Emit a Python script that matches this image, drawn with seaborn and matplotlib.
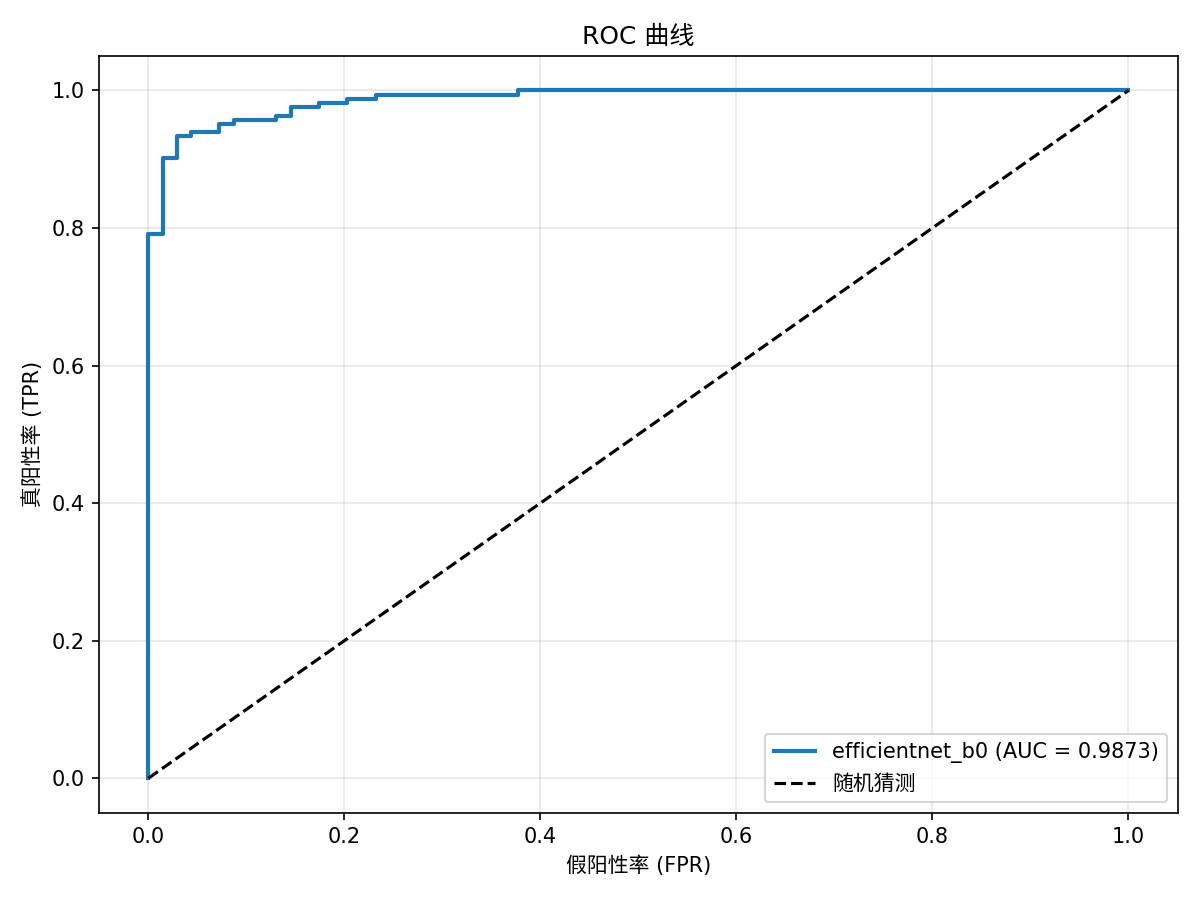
import matplotlib
matplotlib.use("Agg")
import matplotlib.pyplot as plt
import seaborn as sns
import pandas as pd

# ROC corner points (as roc_curve would return them)
fpr = [0.0, 0.0, 0.0145, 0.0145, 0.029, 0.029, 0.0435, 0.0435, 0.0725, 0.0725,
       0.087, 0.087, 0.130, 0.130, 0.145, 0.145, 0.174, 0.174, 0.203, 0.203,
       0.232, 0.232, 0.377, 0.377, 1.0]
tpr = [0.0, 0.791, 0.791, 0.902, 0.902, 0.933, 0.933, 0.939, 0.939, 0.951,
       0.951, 0.957, 0.957, 0.963, 0.963, 0.976, 0.976, 0.982, 0.982, 0.988,
       0.988, 0.994, 0.994, 1.0, 1.0]
MODEL_NAME = "efficientnet_b0"
AUC = 0.9873

plt.rcParams["font.family"] = ["DejaVu Sans", "Noto Sans CJK SC"]
plt.rcParams["axes.unicode_minus"] = False

df = pd.DataFrame({"fpr": fpr, "tpr": tpr})

fig, ax = plt.subplots(figsize=(8, 6))
sns.lineplot(data=df, x="fpr", y="tpr", sort=False, estimator=None,
             color="#1f77b4", linewidth=2,
             label=f"{MODEL_NAME} (AUC = {AUC:.4f})", ax=ax)
sns.lineplot(x=[0, 1], y=[0, 1], color="black", linestyle="--",
             linewidth=1.5, label="随机猜测", ax=ax)

ax.set_xlabel("假阳性率 (FPR)")
ax.set_ylabel("真阳性率 (TPR)")
ax.set_title("ROC 曲线")
ax.legend(loc="lower right")
ax.grid(True, alpha=0.3)

plt.tight_layout()
plt.savefig("out.png", dpi=150)
plt.close()
